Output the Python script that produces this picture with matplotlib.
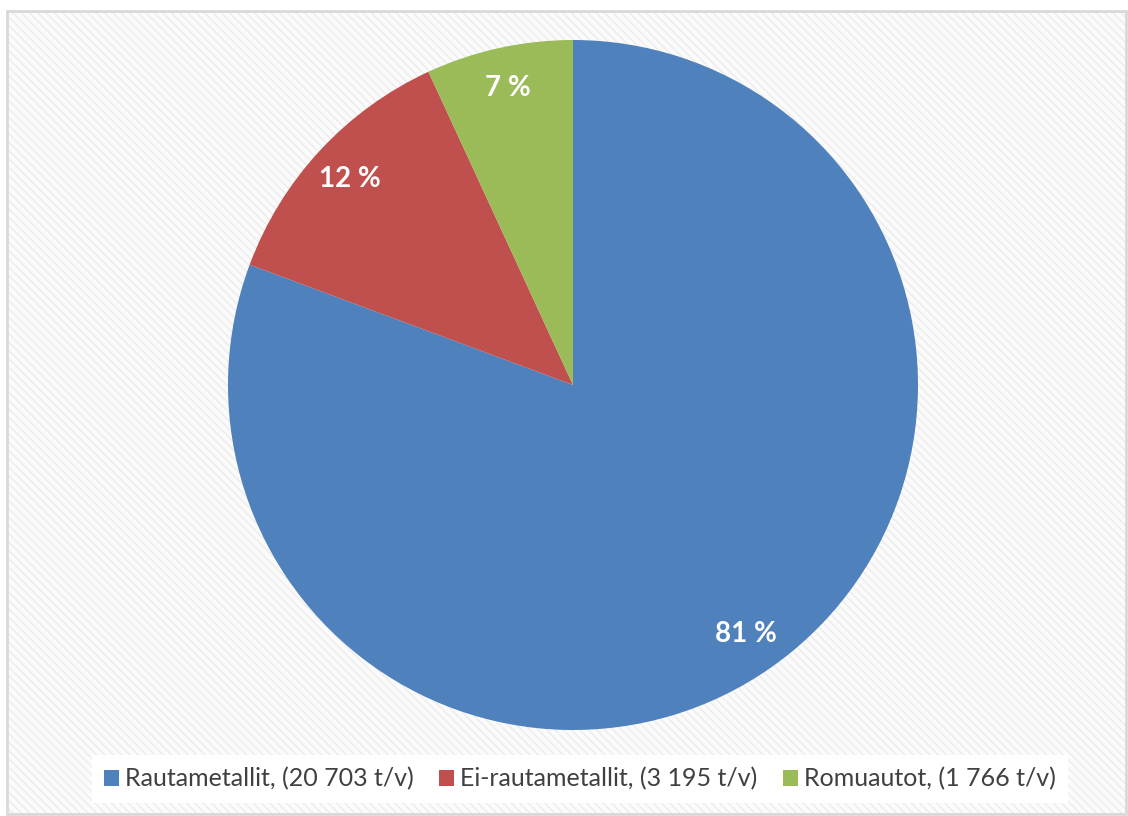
import matplotlib.pyplot as plt
from matplotlib.patches import Rectangle, Patch

# Metalliromu tonnia vuodessa
labels = ['Rautametallit', 'Ei-rautametallit', 'Romuautot']
tonnes = [20703, 3195, 1766]
colors = ['#4F81BD', '#C0504D', '#9BBB59']


def fmt_thousands(v):
    return f'{v:,}'.replace(',', ' ')


W, H = 1128, 816
fig = plt.figure(figsize=(W / 100, H / 100), dpi=100)
fig.patch.set_facecolor('white')

# striped chart area with light border
bg = Rectangle((7 / W, 2 / H), 1 - 9 / W, 1 - 13 / H, transform=fig.transFigure,
               facecolor='#fbfbfb', edgecolor='#ececec', hatch='\\\\\\\\', linewidth=0,
               zorder=-10)
fig.patches.append(bg)
frame = Rectangle((7 / W, 2 / H), 1 - 9 / W, 1 - 13 / H, transform=fig.transFigure,
                  facecolor='none', edgecolor='#d9d9d9', linewidth=2, zorder=-9)
fig.patches.append(frame)

cx, cy, r = 573, 385, 345
ax = fig.add_axes([(cx - r) / W, (H - cy - r) / H, 2 * r / W, 2 * r / H])
ax.set_facecolor('none')

wedges, texts, autotexts = ax.pie(
    tonnes, colors=colors, startangle=90, counterclock=False, radius=1,
    autopct=lambda p: f'{round(p)} %', pctdistance=0.88,
    wedgeprops=dict(linewidth=0),
    textprops=dict(color='white', fontsize=20, fontweight='bold', family='Lato'))
ax.set_xlim(-1, 1)
ax.set_ylim(-1, 1)

handles = [Patch(facecolor=c, edgecolor='none') for c in colors]
leg_labels = [f'{n}, ({fmt_thousands(t)} t/v)' for n, t in zip(labels, tonnes)]
leg = fig.legend(handles, leg_labels, loc='center', bbox_to_anchor=(580 / W, 1 - 779 / H),
                 ncol=3, frameon=True, fancybox=False, handlelength=0.6, handleheight=0.6,
                 handletextpad=0.25, columnspacing=1.0, borderpad=0.5,
                 prop=dict(family='Lato', size=18))
leg.get_frame().set_facecolor('white')
leg.get_frame().set_edgecolor('none')
leg.get_frame().set_alpha(1)
for t in leg.get_texts():
    t.set_color('#404040')

fig.savefig('out.png', dpi=100)
